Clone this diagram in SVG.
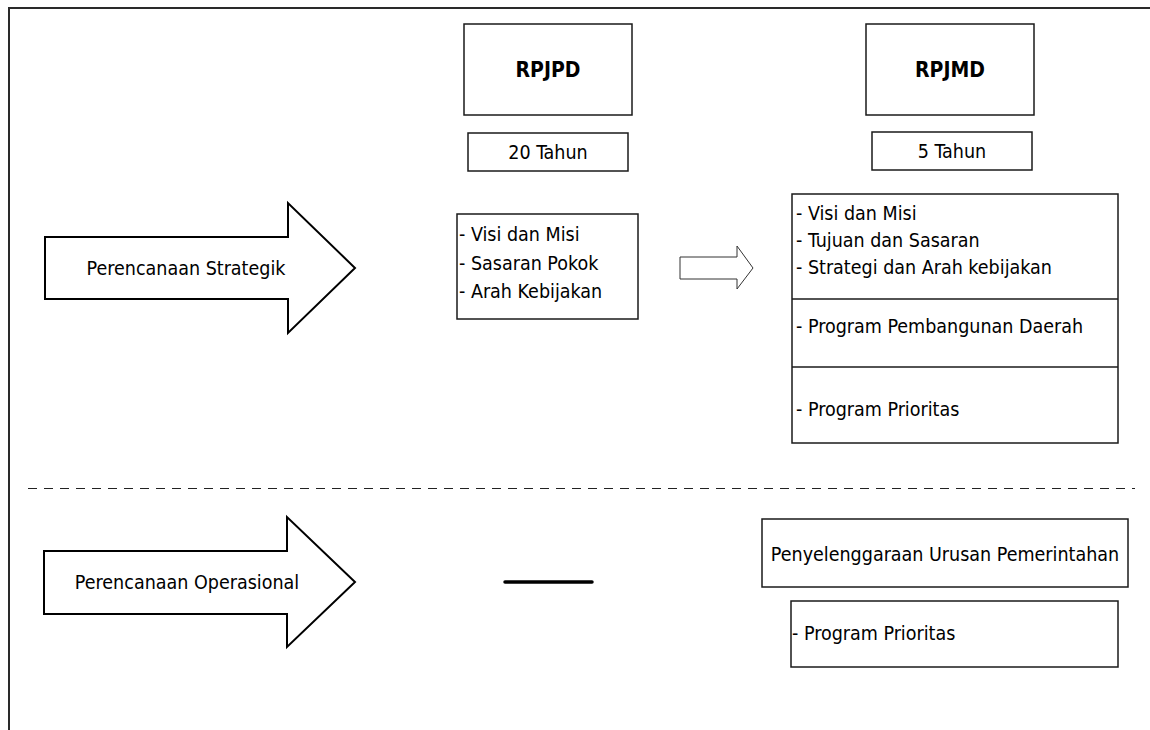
<svg xmlns="http://www.w3.org/2000/svg" width="1150" height="730" viewBox="0 0 1150 730">
<style>
.box{fill:#fff;stroke:#1a1a1a;stroke-width:1.5}
.arrow{fill:#fff;stroke:#000;stroke-width:2;stroke-linejoin:miter}
.t{font-family:"DejaVu Sans Condensed","DejaVu Sans",Tahoma,sans-serif;font-stretch:condensed;font-size:19.5px;fill:#000}
.b{font-weight:bold;font-size:21px}
.c{text-anchor:middle}
</style>
<rect width="1150" height="730" fill="#fff"/>
<g id="frame">
<path d="M9,730 V8 H1150" fill="none" stroke="#2a2a2a" stroke-width="2"/>
</g>
<g id="divider">
<line x1="28" y1="488.5" x2="1135" y2="488.5" stroke="#222" stroke-width="1" stroke-dasharray="9,7"/>
</g>
<g id="arrow-strategik">
<path class="arrow" d="M45,237 H288 V203 L355,268 L288,333 V299 H45 Z"/>
<text class="t c" x="186" y="275">Perencanaan Strategik</text>
</g>
<g id="arrow-operasional">
<path class="arrow" d="M44,551 H287 V517 L355,582 L287,647 V614 H44 Z"/>
<text class="t c" x="187" y="589">Perencanaan Operasional</text>
</g>
<g id="rpjpd">
<rect class="box" x="464" y="24" width="168" height="91"/>
<text class="t b c" x="548" y="77">RPJPD</text>
</g>
<g id="rpjpd-tahun">
<rect class="box" x="468" y="133" width="160" height="38"/>
<text class="t c" x="548" y="159">20 Tahun</text>
</g>
<g id="rpjpd-isi">
<rect class="box" x="457" y="214" width="181" height="105"/>
<text class="t" x="459" y="241">- Visi dan Misi</text>
<text class="t" x="459" y="270">- Sasaran Pokok</text>
<text class="t" x="459" y="298">- Arah Kebijakan</text>
</g>
<g id="rpjmd">
<rect class="box" x="866" y="24" width="168" height="91" stroke="#444"/>
<text class="t b c" x="950" y="77">RPJMD</text>
</g>
<g id="rpjmd-tahun">
<rect class="box" x="872" y="132" width="160" height="38"/>
<text class="t c" x="952" y="158">5 Tahun</text>
</g>
<g id="rpjmd-isi">
<rect class="box" x="792" y="194" width="326" height="249"/>
<line x1="792" y1="299" x2="1118" y2="299" stroke="#1a1a1a" stroke-width="1.5"/>
<line x1="792" y1="367" x2="1118" y2="367" stroke="#1a1a1a" stroke-width="1.5"/>
<text class="t" x="796" y="220">- Visi dan Misi</text>
<text class="t" x="796" y="247">- Tujuan dan Sasaran</text>
<text class="t" x="796" y="274">- Strategi dan Arah kebijakan</text>
<text class="t" x="796" y="333">- Program Pembangunan Daerah</text>
<text class="t" x="796" y="416">- Program Prioritas</text>
</g>
<g id="urusan">
<rect class="box" x="762" y="519" width="366" height="68"/>
<text class="t c" x="945" y="561">Penyelenggaraan Urusan Pemerintahan</text>
</g>
<g id="prioritas-op">
<rect class="box" x="791" y="601" width="327" height="66"/>
<text class="t" x="792" y="640">- Program Prioritas</text>
</g>
<g id="connectors">
<path d="M680,257 H737 V246 L753,268 L737,289 V279 H680 Z" fill="#fff" stroke="#333" stroke-width="1"/>
<line x1="505" y1="582" x2="592" y2="582" stroke="#000" stroke-width="3.5" stroke-linecap="round"/>
</g>
</svg>
